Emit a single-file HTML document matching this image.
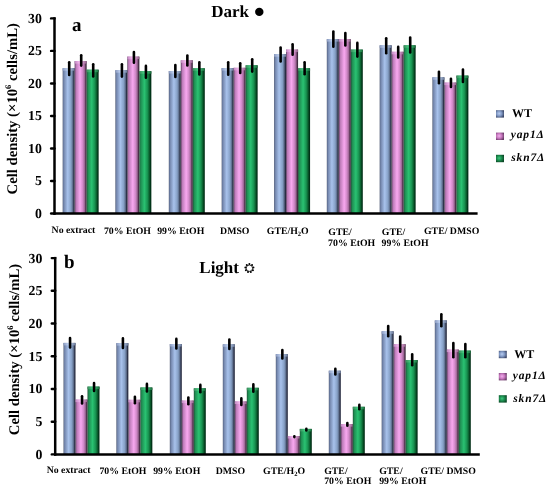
<!DOCTYPE html>
<html><head><meta charset="utf-8"><style>
html,body{margin:0;padding:0;background:#fff;}
body{width:550px;height:487px;overflow:hidden;}
svg{display:block;will-change:transform;filter:blur(0.3px);}
text{font-family:"Liberation Serif",serif;font-weight:bold;fill:#000;text-rendering:geometricPrecision;}
.tk{font-size:13.8px;text-anchor:end;}
.xl{font-size:9.8px;}
.ttl{font-size:17px;}
.pl{font-size:19px;}
.lg{font-size:12px;}
.lgi{font-size:11.5px;font-style:italic;letter-spacing:0.85px;}
.yt{font-size:14.7px;}
</style></head><body>
<svg width="550" height="487" viewBox="0 0 550 487">
<defs>
<linearGradient id="gB" x1="0" x2="1" y1="0" y2="0">
<stop offset="0" stop-color="#4a5670"/><stop offset="0.08" stop-color="#7082a8"/><stop offset="0.42" stop-color="#a8c2ec"/><stop offset="0.7" stop-color="#86a0c6"/><stop offset="0.84" stop-color="#5c6c8a"/><stop offset="0.93" stop-color="#2c3248"/><stop offset="1" stop-color="#22263a"/>
</linearGradient>
<linearGradient id="gP" x1="0" x2="1" y1="0" y2="0">
<stop offset="0" stop-color="#4a3050"/><stop offset="0.1" stop-color="#b878b4"/><stop offset="0.45" stop-color="#f8a8f0"/><stop offset="0.68" stop-color="#d088c8"/><stop offset="0.82" stop-color="#a06898"/><stop offset="0.93" stop-color="#4a2e48"/><stop offset="1" stop-color="#302434"/>
</linearGradient>
<linearGradient id="gG" x1="0" x2="1" y1="0" y2="0">
<stop offset="0" stop-color="#1e4a34"/><stop offset="0.1" stop-color="#1e8a50"/><stop offset="0.42" stop-color="#2ac272"/><stop offset="0.68" stop-color="#189250"/><stop offset="0.84" stop-color="#0a5a2c"/><stop offset="0.93" stop-color="#003418"/><stop offset="1" stop-color="#062e18"/>
</linearGradient>
<linearGradient id="cB" x1="0" x2="1" y1="0" y2="0">
<stop offset="0" stop-color="#8a9ac0"/><stop offset="0.45" stop-color="#c6d8f6"/><stop offset="1" stop-color="#6a7a9a"/>
</linearGradient>
<linearGradient id="cP" x1="0" x2="1" y1="0" y2="0">
<stop offset="0" stop-color="#c088c0"/><stop offset="0.45" stop-color="#fcc0f6"/><stop offset="1" stop-color="#906088"/>
</linearGradient>
<linearGradient id="cG" x1="0" x2="1" y1="0" y2="0">
<stop offset="0" stop-color="#3a8a5a"/><stop offset="0.45" stop-color="#48d488"/><stop offset="1" stop-color="#1a6a3a"/>
</linearGradient>
<radialGradient id="lB" cx="0.4" cy="0.45" r="0.65">
<stop offset="0" stop-color="#b8ccf0"/><stop offset="0.5" stop-color="#8098c4"/><stop offset="1" stop-color="#3c4868"/>
</radialGradient>
<radialGradient id="lP" cx="0.4" cy="0.45" r="0.65">
<stop offset="0" stop-color="#f0b0ec"/><stop offset="0.5" stop-color="#c878c0"/><stop offset="1" stop-color="#6a3c68"/>
</radialGradient>
<radialGradient id="lG" cx="0.4" cy="0.45" r="0.65">
<stop offset="0" stop-color="#40c880"/><stop offset="0.5" stop-color="#1a8a4c"/><stop offset="1" stop-color="#0a4424"/>
</radialGradient>
</defs>
<rect x="62.65" y="68.20" width="12.0" height="145.30" fill="url(#gB)"/>
<rect x="62.65" y="68.20" width="12.0" height="2.5" fill="url(#cB)"/>
<rect x="74.65" y="61.10" width="12.0" height="152.40" fill="url(#gP)"/>
<rect x="74.65" y="61.10" width="12.0" height="2.5" fill="url(#cP)"/>
<rect x="86.65" y="69.70" width="12.0" height="143.80" fill="url(#gG)"/>
<rect x="86.65" y="69.70" width="12.0" height="2.5" fill="url(#cG)"/>
<rect x="115.36" y="70.20" width="12.0" height="143.30" fill="url(#gB)"/>
<rect x="115.36" y="70.20" width="12.0" height="2.5" fill="url(#cB)"/>
<rect x="127.36" y="56.60" width="12.0" height="156.90" fill="url(#gP)"/>
<rect x="127.36" y="56.60" width="12.0" height="2.5" fill="url(#cP)"/>
<rect x="139.36" y="71.20" width="12.0" height="142.30" fill="url(#gG)"/>
<rect x="139.36" y="71.20" width="12.0" height="2.5" fill="url(#cG)"/>
<rect x="168.80" y="71.00" width="12.0" height="142.50" fill="url(#gB)"/>
<rect x="168.80" y="71.00" width="12.0" height="2.5" fill="url(#cB)"/>
<rect x="180.80" y="60.30" width="12.0" height="153.20" fill="url(#gP)"/>
<rect x="180.80" y="60.30" width="12.0" height="2.5" fill="url(#cP)"/>
<rect x="192.80" y="68.30" width="12.0" height="145.20" fill="url(#gG)"/>
<rect x="192.80" y="68.30" width="12.0" height="2.5" fill="url(#cG)"/>
<rect x="221.65" y="68.10" width="12.0" height="145.40" fill="url(#gB)"/>
<rect x="221.65" y="68.10" width="12.0" height="2.5" fill="url(#cB)"/>
<rect x="233.65" y="67.80" width="12.0" height="145.70" fill="url(#gP)"/>
<rect x="233.65" y="67.80" width="12.0" height="2.5" fill="url(#cP)"/>
<rect x="245.65" y="65.30" width="12.0" height="148.20" fill="url(#gG)"/>
<rect x="245.65" y="65.30" width="12.0" height="2.5" fill="url(#cG)"/>
<rect x="274.07" y="54.20" width="12.0" height="159.30" fill="url(#gB)"/>
<rect x="274.07" y="54.20" width="12.0" height="2.5" fill="url(#cB)"/>
<rect x="286.07" y="49.60" width="12.0" height="163.90" fill="url(#gP)"/>
<rect x="286.07" y="49.60" width="12.0" height="2.5" fill="url(#cP)"/>
<rect x="298.07" y="68.30" width="12.0" height="145.20" fill="url(#gG)"/>
<rect x="298.07" y="68.30" width="12.0" height="2.5" fill="url(#cG)"/>
<rect x="326.80" y="39.10" width="12.0" height="174.40" fill="url(#gB)"/>
<rect x="326.80" y="39.10" width="12.0" height="2.5" fill="url(#cB)"/>
<rect x="338.80" y="39.10" width="12.0" height="174.40" fill="url(#gP)"/>
<rect x="338.80" y="39.10" width="12.0" height="2.5" fill="url(#cP)"/>
<rect x="350.80" y="49.60" width="12.0" height="163.90" fill="url(#gG)"/>
<rect x="350.80" y="49.60" width="12.0" height="2.5" fill="url(#cG)"/>
<rect x="379.65" y="45.30" width="12.0" height="168.20" fill="url(#gB)"/>
<rect x="379.65" y="45.30" width="12.0" height="2.5" fill="url(#cB)"/>
<rect x="391.65" y="51.80" width="12.0" height="161.70" fill="url(#gP)"/>
<rect x="391.65" y="51.80" width="12.0" height="2.5" fill="url(#cP)"/>
<rect x="403.65" y="45.30" width="12.0" height="168.20" fill="url(#gG)"/>
<rect x="403.65" y="45.30" width="12.0" height="2.5" fill="url(#cG)"/>
<rect x="432.40" y="77.30" width="12.0" height="136.20" fill="url(#gB)"/>
<rect x="432.40" y="77.30" width="12.0" height="2.5" fill="url(#cB)"/>
<rect x="444.40" y="82.60" width="12.0" height="130.90" fill="url(#gP)"/>
<rect x="444.40" y="82.60" width="12.0" height="2.5" fill="url(#cP)"/>
<rect x="456.40" y="75.60" width="12.0" height="137.90" fill="url(#gG)"/>
<rect x="456.40" y="75.60" width="12.0" height="2.5" fill="url(#cG)"/>
<line x1="69.20" y1="62.30" x2="69.20" y2="74.90" stroke="#000" stroke-width="2.6" stroke-linecap="round"/>
<line x1="81.20" y1="55.30" x2="81.20" y2="65.60" stroke="#000" stroke-width="2.6" stroke-linecap="round"/>
<line x1="93.20" y1="64.30" x2="93.20" y2="76.40" stroke="#000" stroke-width="2.6" stroke-linecap="round"/>
<line x1="121.91" y1="64.20" x2="121.91" y2="76.60" stroke="#000" stroke-width="2.6" stroke-linecap="round"/>
<line x1="133.91" y1="52.10" x2="133.91" y2="62.70" stroke="#000" stroke-width="2.6" stroke-linecap="round"/>
<line x1="145.91" y1="65.90" x2="145.91" y2="77.80" stroke="#000" stroke-width="2.6" stroke-linecap="round"/>
<line x1="175.35" y1="65.00" x2="175.35" y2="77.00" stroke="#000" stroke-width="2.6" stroke-linecap="round"/>
<line x1="187.35" y1="55.50" x2="187.35" y2="65.50" stroke="#000" stroke-width="2.6" stroke-linecap="round"/>
<line x1="199.35" y1="62.20" x2="199.35" y2="74.50" stroke="#000" stroke-width="2.6" stroke-linecap="round"/>
<line x1="228.20" y1="62.20" x2="228.20" y2="74.70" stroke="#000" stroke-width="2.6" stroke-linecap="round"/>
<line x1="240.20" y1="63.20" x2="240.20" y2="72.90" stroke="#000" stroke-width="2.6" stroke-linecap="round"/>
<line x1="252.20" y1="59.20" x2="252.20" y2="71.60" stroke="#000" stroke-width="2.6" stroke-linecap="round"/>
<line x1="280.62" y1="47.50" x2="280.62" y2="61.50" stroke="#000" stroke-width="2.6" stroke-linecap="round"/>
<line x1="292.62" y1="44.20" x2="292.62" y2="54.70" stroke="#000" stroke-width="2.6" stroke-linecap="round"/>
<line x1="304.62" y1="62.30" x2="304.62" y2="74.20" stroke="#000" stroke-width="2.6" stroke-linecap="round"/>
<line x1="333.35" y1="31.50" x2="333.35" y2="46.70" stroke="#000" stroke-width="2.6" stroke-linecap="round"/>
<line x1="345.35" y1="33.10" x2="345.35" y2="45.50" stroke="#000" stroke-width="2.6" stroke-linecap="round"/>
<line x1="357.35" y1="42.90" x2="357.35" y2="56.60" stroke="#000" stroke-width="2.6" stroke-linecap="round"/>
<line x1="386.20" y1="38.20" x2="386.20" y2="53.20" stroke="#000" stroke-width="2.6" stroke-linecap="round"/>
<line x1="398.20" y1="46.90" x2="398.20" y2="57.40" stroke="#000" stroke-width="2.6" stroke-linecap="round"/>
<line x1="410.20" y1="37.60" x2="410.20" y2="52.50" stroke="#000" stroke-width="2.6" stroke-linecap="round"/>
<line x1="438.95" y1="71.70" x2="438.95" y2="83.20" stroke="#000" stroke-width="2.6" stroke-linecap="round"/>
<line x1="450.95" y1="78.70" x2="450.95" y2="87.00" stroke="#000" stroke-width="2.6" stroke-linecap="round"/>
<line x1="462.95" y1="69.50" x2="462.95" y2="82.00" stroke="#000" stroke-width="2.6" stroke-linecap="round"/>
<line x1="54.50" y1="17.20" x2="54.50" y2="214.70" stroke="#000" stroke-width="2.5"/>
<line x1="53.30" y1="213.50" x2="477.60" y2="213.50" stroke="#000" stroke-width="2.5"/>
<line x1="51.10" y1="18.40" x2="54.50" y2="18.40" stroke="#000" stroke-width="2.4" stroke-linecap="round"/>
<line x1="51.10" y1="50.92" x2="54.50" y2="50.92" stroke="#000" stroke-width="2.4" stroke-linecap="round"/>
<line x1="51.10" y1="83.43" x2="54.50" y2="83.43" stroke="#000" stroke-width="2.4" stroke-linecap="round"/>
<line x1="51.10" y1="115.95" x2="54.50" y2="115.95" stroke="#000" stroke-width="2.4" stroke-linecap="round"/>
<line x1="51.10" y1="148.47" x2="54.50" y2="148.47" stroke="#000" stroke-width="2.4" stroke-linecap="round"/>
<line x1="51.10" y1="180.98" x2="54.50" y2="180.98" stroke="#000" stroke-width="2.4" stroke-linecap="round"/>
<line x1="51.10" y1="213.50" x2="54.50" y2="213.50" stroke="#000" stroke-width="2.4" stroke-linecap="round"/>
<rect x="63.50" y="342.90" width="12.0" height="111.50" fill="url(#gB)"/>
<rect x="63.50" y="342.90" width="12.0" height="2.5" fill="url(#cB)"/>
<rect x="75.50" y="399.60" width="12.0" height="54.80" fill="url(#gP)"/>
<rect x="75.50" y="399.60" width="12.0" height="2.5" fill="url(#cP)"/>
<rect x="87.50" y="386.60" width="12.0" height="67.80" fill="url(#gG)"/>
<rect x="87.50" y="386.60" width="12.0" height="2.5" fill="url(#cG)"/>
<rect x="116.36" y="343.10" width="12.0" height="111.30" fill="url(#gB)"/>
<rect x="116.36" y="343.10" width="12.0" height="2.5" fill="url(#cB)"/>
<rect x="128.36" y="399.80" width="12.0" height="54.60" fill="url(#gP)"/>
<rect x="128.36" y="399.80" width="12.0" height="2.5" fill="url(#cP)"/>
<rect x="140.36" y="387.50" width="12.0" height="66.90" fill="url(#gG)"/>
<rect x="140.36" y="387.50" width="12.0" height="2.5" fill="url(#cG)"/>
<rect x="169.80" y="344.00" width="12.0" height="110.40" fill="url(#gB)"/>
<rect x="169.80" y="344.00" width="12.0" height="2.5" fill="url(#cB)"/>
<rect x="181.80" y="400.60" width="12.0" height="53.80" fill="url(#gP)"/>
<rect x="181.80" y="400.60" width="12.0" height="2.5" fill="url(#cP)"/>
<rect x="193.80" y="388.30" width="12.0" height="66.10" fill="url(#gG)"/>
<rect x="193.80" y="388.30" width="12.0" height="2.5" fill="url(#cG)"/>
<rect x="222.80" y="344.30" width="12.0" height="110.10" fill="url(#gB)"/>
<rect x="222.80" y="344.30" width="12.0" height="2.5" fill="url(#cB)"/>
<rect x="234.80" y="401.50" width="12.0" height="52.90" fill="url(#gP)"/>
<rect x="234.80" y="401.50" width="12.0" height="2.5" fill="url(#cP)"/>
<rect x="246.80" y="387.80" width="12.0" height="66.60" fill="url(#gG)"/>
<rect x="246.80" y="387.80" width="12.0" height="2.5" fill="url(#cG)"/>
<rect x="275.80" y="354.10" width="12.0" height="100.30" fill="url(#gB)"/>
<rect x="275.80" y="354.10" width="12.0" height="2.5" fill="url(#cB)"/>
<rect x="287.80" y="436.00" width="12.0" height="18.40" fill="url(#gP)"/>
<rect x="287.80" y="436.00" width="12.0" height="2.5" fill="url(#cP)"/>
<rect x="299.80" y="428.90" width="12.0" height="25.50" fill="url(#gG)"/>
<rect x="299.80" y="428.90" width="12.0" height="2.5" fill="url(#cG)"/>
<rect x="328.80" y="370.70" width="12.0" height="83.70" fill="url(#gB)"/>
<rect x="328.80" y="370.70" width="12.0" height="2.5" fill="url(#cB)"/>
<rect x="340.80" y="424.10" width="12.0" height="30.30" fill="url(#gP)"/>
<rect x="340.80" y="424.10" width="12.0" height="2.5" fill="url(#cP)"/>
<rect x="352.80" y="406.80" width="12.0" height="47.60" fill="url(#gG)"/>
<rect x="352.80" y="406.80" width="12.0" height="2.5" fill="url(#cG)"/>
<rect x="381.65" y="331.30" width="12.0" height="123.10" fill="url(#gB)"/>
<rect x="381.65" y="331.30" width="12.0" height="2.5" fill="url(#cB)"/>
<rect x="393.65" y="344.20" width="12.0" height="110.20" fill="url(#gP)"/>
<rect x="393.65" y="344.20" width="12.0" height="2.5" fill="url(#cP)"/>
<rect x="405.65" y="360.00" width="12.0" height="94.40" fill="url(#gG)"/>
<rect x="405.65" y="360.00" width="12.0" height="2.5" fill="url(#cG)"/>
<rect x="434.80" y="320.40" width="12.0" height="134.00" fill="url(#gB)"/>
<rect x="434.80" y="320.40" width="12.0" height="2.5" fill="url(#cB)"/>
<rect x="446.80" y="349.60" width="12.0" height="104.80" fill="url(#gP)"/>
<rect x="446.80" y="349.60" width="12.0" height="2.5" fill="url(#cP)"/>
<rect x="458.80" y="350.60" width="12.0" height="103.80" fill="url(#gG)"/>
<rect x="458.80" y="350.60" width="12.0" height="2.5" fill="url(#cG)"/>
<line x1="70.05" y1="338.00" x2="70.05" y2="347.40" stroke="#000" stroke-width="2.6" stroke-linecap="round"/>
<line x1="82.05" y1="396.30" x2="82.05" y2="403.50" stroke="#000" stroke-width="2.6" stroke-linecap="round"/>
<line x1="94.05" y1="383.00" x2="94.05" y2="390.90" stroke="#000" stroke-width="2.6" stroke-linecap="round"/>
<line x1="122.91" y1="338.40" x2="122.91" y2="347.90" stroke="#000" stroke-width="2.6" stroke-linecap="round"/>
<line x1="134.91" y1="396.70" x2="134.91" y2="403.30" stroke="#000" stroke-width="2.6" stroke-linecap="round"/>
<line x1="146.91" y1="383.90" x2="146.91" y2="391.40" stroke="#000" stroke-width="2.6" stroke-linecap="round"/>
<line x1="176.35" y1="338.90" x2="176.35" y2="348.40" stroke="#000" stroke-width="2.6" stroke-linecap="round"/>
<line x1="188.35" y1="397.50" x2="188.35" y2="404.20" stroke="#000" stroke-width="2.6" stroke-linecap="round"/>
<line x1="200.35" y1="384.90" x2="200.35" y2="392.20" stroke="#000" stroke-width="2.6" stroke-linecap="round"/>
<line x1="229.35" y1="339.50" x2="229.35" y2="349.00" stroke="#000" stroke-width="2.6" stroke-linecap="round"/>
<line x1="241.35" y1="398.40" x2="241.35" y2="404.90" stroke="#000" stroke-width="2.6" stroke-linecap="round"/>
<line x1="253.35" y1="384.40" x2="253.35" y2="391.80" stroke="#000" stroke-width="2.6" stroke-linecap="round"/>
<line x1="282.35" y1="350.10" x2="282.35" y2="358.50" stroke="#000" stroke-width="2.6" stroke-linecap="round"/>
<line x1="294.35" y1="436.20" x2="294.35" y2="437.10" stroke="#000" stroke-width="2.6" stroke-linecap="round"/>
<line x1="306.35" y1="428.80" x2="306.35" y2="430.50" stroke="#000" stroke-width="2.6" stroke-linecap="round"/>
<line x1="335.35" y1="368.80" x2="335.35" y2="374.40" stroke="#000" stroke-width="2.6" stroke-linecap="round"/>
<line x1="347.35" y1="423.00" x2="347.35" y2="425.70" stroke="#000" stroke-width="2.6" stroke-linecap="round"/>
<line x1="359.35" y1="404.70" x2="359.35" y2="409.30" stroke="#000" stroke-width="2.6" stroke-linecap="round"/>
<line x1="388.20" y1="326.10" x2="388.20" y2="336.30" stroke="#000" stroke-width="2.6" stroke-linecap="round"/>
<line x1="400.20" y1="336.60" x2="400.20" y2="351.80" stroke="#000" stroke-width="2.6" stroke-linecap="round"/>
<line x1="412.20" y1="354.40" x2="412.20" y2="365.30" stroke="#000" stroke-width="2.6" stroke-linecap="round"/>
<line x1="441.35" y1="314.30" x2="441.35" y2="326.20" stroke="#000" stroke-width="2.6" stroke-linecap="round"/>
<line x1="453.35" y1="343.00" x2="453.35" y2="357.20" stroke="#000" stroke-width="2.6" stroke-linecap="round"/>
<line x1="465.35" y1="344.10" x2="465.35" y2="357.20" stroke="#000" stroke-width="2.6" stroke-linecap="round"/>
<line x1="55.20" y1="256.90" x2="55.20" y2="455.60" stroke="#000" stroke-width="2.5"/>
<line x1="54.00" y1="454.40" x2="479.80" y2="454.40" stroke="#000" stroke-width="2.5"/>
<line x1="51.80" y1="258.10" x2="55.20" y2="258.10" stroke="#000" stroke-width="2.4" stroke-linecap="round"/>
<line x1="51.80" y1="290.82" x2="55.20" y2="290.82" stroke="#000" stroke-width="2.4" stroke-linecap="round"/>
<line x1="51.80" y1="323.53" x2="55.20" y2="323.53" stroke="#000" stroke-width="2.4" stroke-linecap="round"/>
<line x1="51.80" y1="356.25" x2="55.20" y2="356.25" stroke="#000" stroke-width="2.4" stroke-linecap="round"/>
<line x1="51.80" y1="388.97" x2="55.20" y2="388.97" stroke="#000" stroke-width="2.4" stroke-linecap="round"/>
<line x1="51.80" y1="421.68" x2="55.20" y2="421.68" stroke="#000" stroke-width="2.4" stroke-linecap="round"/>
<line x1="51.80" y1="454.40" x2="55.20" y2="454.40" stroke="#000" stroke-width="2.4" stroke-linecap="round"/>
<text x="41.8" y="22.90" class="tk">30</text>
<text x="41.8" y="55.42" class="tk">25</text>
<text x="41.8" y="87.93" class="tk">20</text>
<text x="41.8" y="120.45" class="tk">15</text>
<text x="41.8" y="152.97" class="tk">10</text>
<text x="41.8" y="185.48" class="tk">5</text>
<text x="41.8" y="218.00" class="tk">0</text>
<text x="42.3" y="262.60" class="tk">30</text>
<text x="42.3" y="295.32" class="tk">25</text>
<text x="42.3" y="328.03" class="tk">20</text>
<text x="42.3" y="360.75" class="tk">15</text>
<text x="42.3" y="393.47" class="tk">10</text>
<text x="42.3" y="426.18" class="tk">5</text>
<text x="42.3" y="458.90" class="tk">0</text>
<!-- titles -->
<text x="211.3" y="16.7" class="ttl">Dark</text>
<circle cx="259.3" cy="11.9" r="4.2" fill="#000"/>
<text x="199.3" y="273" class="ttl">Light</text>
<g transform="translate(249.4,268.2)">
<circle r="3.2" fill="none" stroke="#2a2a2a" stroke-width="0.95"/>
<g fill="#000"><circle cx="0.00" cy="-4.10" r="1.0"/><circle cx="2.64" cy="-3.14" r="1.0"/><circle cx="4.04" cy="-0.71" r="1.0"/><circle cx="3.55" cy="2.05" r="1.0"/><circle cx="1.40" cy="3.85" r="1.0"/><circle cx="-1.40" cy="3.85" r="1.0"/><circle cx="-3.55" cy="2.05" r="1.0"/><circle cx="-4.04" cy="-0.71" r="1.0"/><circle cx="-2.64" cy="-3.14" r="1.0"/></g>
</g>
<text x="72.0" y="30.7" class="pl">a</text>
<text x="64.0" y="267.5" class="pl">b</text>
<!-- y titles -->
<text transform="translate(17.3,194.4) rotate(-90)" class="yt">Cell density (×10<tspan dy="-6" font-size="8.5">6</tspan><tspan dy="6"> cells/mL)</tspan></text>
<text transform="translate(19.2,435.2) rotate(-90)" class="yt">Cell density (×10<tspan dy="-6" font-size="8.5">6</tspan><tspan dy="6"> cells/mL)</tspan></text>
<!-- legend a -->
<rect x="496" y="110.2" width="8" height="7.4" fill="url(#lB)"/>
<rect x="496" y="132.6" width="8" height="7.4" fill="url(#lP)"/>
<rect x="496" y="154.8" width="8" height="7.4" fill="url(#lG)"/>
<text x="512.1" y="117.3" class="lg">WT</text>
<text x="510.8" y="137.6" class="lgi">yap1Δ</text>
<text x="511.3" y="161.1" class="lgi">skn7Δ</text>
<!-- legend b -->
<rect x="498.8" y="350.8" width="8" height="7.4" fill="url(#lB)"/>
<rect x="498.8" y="373.0" width="8" height="7.4" fill="url(#lP)"/>
<rect x="498.8" y="395.2" width="8" height="7.4" fill="url(#lG)"/>
<text x="514.2" y="357.6" class="lg">WT</text>
<text x="512.8" y="378.6" class="lgi">yap1Δ</text>
<text x="513.3" y="401.6" class="lgi">skn7Δ</text>
<!-- x labels a -->
<text x="51.6" y="233.3" class="xl">No extract</text>
<text x="103.9" y="234.4" class="xl">70% EtOH</text>
<text x="157.2" y="234.4" class="xl">99% EtOH</text>
<text x="220.1" y="234.4" class="xl">DMSO</text>
<text x="266.8" y="234.4" class="xl">GTE/H<tspan dy="2" font-size="6.5">2</tspan><tspan dy="-2">O</tspan></text>
<text x="328.3" y="235.0" class="xl">GTE/</text>
<text x="328.1" y="245.9" class="xl">70% EtOH</text>
<text x="381.8" y="235.0" class="xl">GTE/</text>
<text x="381.5" y="245.9" class="xl">99% EtOH</text>
<text x="424.0" y="234.4" class="xl">GTE/ DMSO</text>
<!-- x labels b -->
<text x="46.7" y="473.1" class="xl">No extract</text>
<text x="99.4" y="473.5" class="xl">70% EtOH</text>
<text x="153.2" y="473.5" class="xl">99% EtOH</text>
<text x="215.7" y="473.5" class="xl">DMSO</text>
<text x="263.1" y="473.5" class="xl">GTE/H<tspan dy="2" font-size="6.5">2</tspan><tspan dy="-2">O</tspan></text>
<text x="324.2" y="473.7" class="xl">GTE/</text>
<text x="324.2" y="484.1" class="xl">70% EtOH</text>
<text x="379.2" y="473.7" class="xl">GTE/</text>
<text x="379.2" y="484.2" class="xl">99% EtOH</text>
<text x="420.6" y="474.4" class="xl">GTE/ DMSO</text>
</svg>
</body></html>
